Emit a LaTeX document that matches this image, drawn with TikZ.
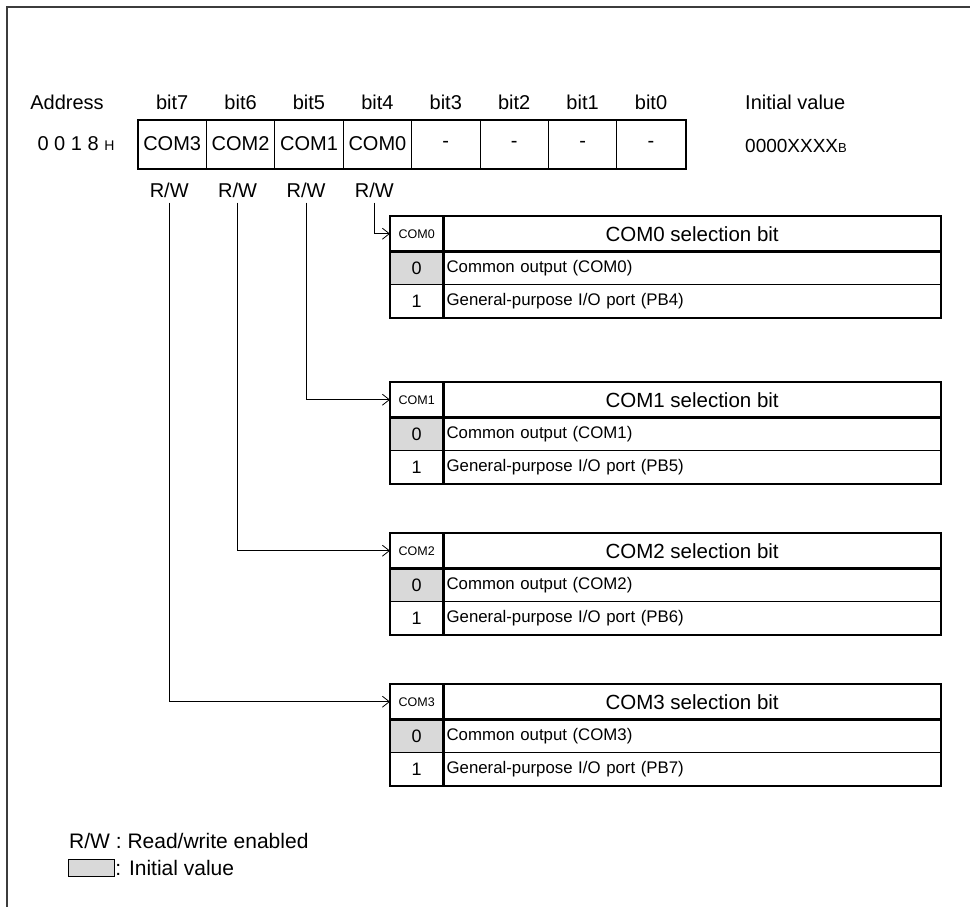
\documentclass[tikz,border=0pt]{standalone}
\usepackage{fontspec}
\setmainfont{Liberation Sans}
\definecolor{initgray}{RGB}{217,217,217}
\definecolor{framegray}{RGB}{60,60,60}
\usetikzlibrary{arrows.meta,positioning,calc}

\begin{document}
\begin{tikzpicture}[x=1pt,y=-1pt,
  lbl/.style={font=\fontsize{20}{23}\selectfont,inner sep=0pt},
  regcell/.style={draw,line width=1pt,minimum width=68.4pt,minimum height=48pt,inner sep=0pt,font=\fontsize{20}{23}\selectfont},
  hdcell/.style={minimum width=53pt,minimum height=35pt,inner sep=0pt,font=\fontsize{12.5}{14}\selectfont},
  titcell/.style={minimum width=497pt,minimum height=35pt,inner sep=0pt,font=\fontsize{20.5}{23}\selectfont},
  valcell/.style={minimum width=53pt,minimum height=33pt,inner sep=0pt,font=\fontsize{18}{21}\selectfont},
  txtcell/.style={text width=491pt,minimum height=33pt,inner sep=3pt,align=left,font=\fontsize{16.8}{20}\selectfont},
  tabline/.style={line width=2.4pt},
  conn/.style={line width=0.8pt,-{Straight Barb[length=7pt,width=11pt]}}]
  \useasboundingbox (0,0) rectangle (970,907);
  \draw[line width=1.5pt,framegray] (970,7) -- (7,7) -- (7,907);

  % register 0018H
  \node[lbl] (addr) at (67,102) {Address};
  \node[lbl] (adval) at (76,144) {0 0 1 8 {\fontsize{14}{16}\selectfont H}};
  \foreach \b [count=\i from 0] in {7,6,...,0}
    \node[lbl] (b\b) at ({172.2+68.4*\i},102) {bit\b};
  \foreach \t [count=\i from 0] in {COM3,COM2,COM1,COM0,-,-,-,-}
    \node[regcell] (r\i) at ({172.2+68.4*\i},144) {\t};
  \draw[line width=2pt] (r0.north west) rectangle (r7.south east);
  \foreach \i in {0,...,3}
    \node[lbl] (rw\i) at ({169.2+68.4*\i},190) {R/W};
  \node[lbl,anchor=west] (init) at (745,102) {Initial value};
  \node[lbl,anchor=west,font=\fontsize{19}{22}\selectfont] (initval) at (745,146) {0000XXXX{\fontsize{13}{15}\selectfont B}};

  % selection bit tables
  \foreach \n/\k/\ty/\pb in {0/3/216/4,1/2/382/5,2/1/533/6,3/0/684/7}{
    \node[hdcell,anchor=north west] (hd\n) at (390,\ty) {COM\n};
    \node[titcell,right=0pt of hd\n] (ti\n) {COM\n\ selection bit};
    \node[valcell,fill=initgray,below=0pt of hd\n] (z\n) {0};
    \node[txtcell,right=0pt of z\n] (zt\n) {Common output (COM\n)};
    \node[valcell,below=0pt of z\n] (o\n) {1};
    \node[txtcell,right=0pt of o\n] (ot\n) {General-purpose I/O port (PB\pb)};
    \draw[tabline] (hd\n.north west) rectangle (ot\n.south east);
    \draw[tabline] (hd\n.north east) -- (o\n.south east);
    \draw[tabline] (hd\n.south west) -- (ti\n.south east);
    \draw[line width=1pt] (z\n.south west) -- (zt\n.south east);
    \draw[conn,shorten <=5pt] (rw\k.south) |- (hd\n.west);
  }

  % legend
  \node[lbl,anchor=west,font=\fontsize{21}{24}\selectfont] (leg1) at (69,841) {R/W : Read/write enabled};
  \node[draw,line width=1.2pt,fill=initgray,minimum width=46pt,minimum height=17pt,inner sep=0pt,anchor=west] (legbox) at (68,868) {};
  \node[lbl,anchor=west,font=\fontsize{21}{24}\selectfont] (leg2) at (legbox.east) {: Initial value};
\end{tikzpicture}
\end{document}
